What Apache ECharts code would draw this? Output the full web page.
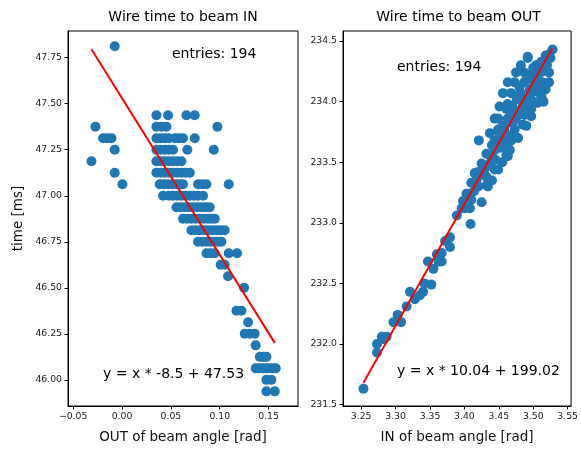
<!DOCTYPE html>
<html>
<head>
<meta charset="utf-8">
<script src="https://cdn.jsdelivr.net/npm/echarts@6/dist/echarts.min.js"></script>
<style>
  html, body { margin: 0; padding: 0; background: #fff; }
  #chart { width: 581px; height: 450px; }
</style>
</head>
<body>
<div id="chart"></div>
<script>
// left panel: OUT of beam angle vs wire time (one line per time row)
var outAngle = [
  -0.0075,
  0.0352, 0.0471, 0.0659, 0.0744,
  -0.0272, 0.0352, 0.0403, 0.0454, 0.0976,
  -0.0194, -0.0150, -0.0108, 0.0352, 0.0395, 0.0437, 0.0480, 0.0540, 0.0582, 0.0624, 0.0744,
  -0.0075, 0.0352, 0.0395, 0.0437, 0.0480, 0.0522, 0.0669, 0.0939,
  -0.0313, 0.0352, 0.0395, 0.0437, 0.0480, 0.0522, 0.0565, 0.0608,
  -0.0075, 0.0352, 0.0395, 0.0437, 0.0480, 0.0522, 0.0565, 0.0608, 0.0650, 0.0693,
  0.0004, 0.0386, 0.0429, 0.0471, 0.0514, 0.0557, 0.0591, 0.0624, 0.0778, 0.0820, 0.0864, 0.1092,
  0.0420, 0.0480, 0.0522, 0.0565, 0.0608, 0.0650, 0.0693, 0.0735, 0.0778, 0.0829,
  0.0557, 0.0600, 0.0642, 0.0685, 0.0727, 0.0770, 0.0813, 0.0855, 0.0898,
  0.0624, 0.0667, 0.0710, 0.0752, 0.0795, 0.0838, 0.0880, 0.0915, 0.0949,
  0.0710, 0.0752, 0.0795, 0.0838, 0.0880, 0.0923, 0.0966, 0.1008, 0.1051,
  0.0778, 0.0821, 0.0864, 0.0906, 0.0949, 0.0983, 0.1017,
  0.0864, 0.0906, 0.0949, 0.1092, 0.1177,
  0.1010, 0.1050,
  0.1085,
  0.1249,
  0.1171, 0.1222,
  0.1290,
  0.1256, 0.1307, 0.1358,
  0.1368,
  0.1410, 0.1444, 0.1478,
  0.1368, 0.1405, 0.1443, 0.1478, 0.1512, 0.1545, 0.1573,
  0.1478, 0.1529,
  0.1478, 0.1563
];
var outTime = [
  47.8125,
  47.4375, 47.4375, 47.4375, 47.4375,
  47.375, 47.375, 47.375, 47.375, 47.375,
  47.3125, 47.3125, 47.3125, 47.3125, 47.3125, 47.3125, 47.3125, 47.3125, 47.3125, 47.3125, 47.3125,
  47.25, 47.25, 47.25, 47.25, 47.25, 47.25, 47.25, 47.25,
  47.1875, 47.1875, 47.1875, 47.1875, 47.1875, 47.1875, 47.1875, 47.1875,
  47.125, 47.125, 47.125, 47.125, 47.125, 47.125, 47.125, 47.125, 47.125, 47.125,
  47.0625, 47.0625, 47.0625, 47.0625, 47.0625, 47.0625, 47.0625, 47.0625, 47.0625, 47.0625, 47.0625, 47.0625,
  47.0, 47.0, 47.0, 47.0, 47.0, 47.0, 47.0, 47.0, 47.0, 47.0,
  46.9375, 46.9375, 46.9375, 46.9375, 46.9375, 46.9375, 46.9375, 46.9375, 46.9375,
  46.875, 46.875, 46.875, 46.875, 46.875, 46.875, 46.875, 46.875, 46.875,
  46.8125, 46.8125, 46.8125, 46.8125, 46.8125, 46.8125, 46.8125, 46.8125, 46.8125,
  46.75, 46.75, 46.75, 46.75, 46.75, 46.75, 46.75,
  46.6875, 46.6875, 46.6875, 46.6875, 46.6875,
  46.625, 46.625,
  46.5625,
  46.5,
  46.375, 46.375,
  46.3125,
  46.25, 46.25, 46.25,
  46.1875,
  46.125, 46.125, 46.125,
  46.0625, 46.0625, 46.0625, 46.0625, 46.0625, 46.0625, 46.0625,
  46.0, 46.0,
  45.9375, 45.9375
];
var outFitX = [-0.0313, 0.1563];
var outFitY = [47.796, 46.201];

// right panel: IN of beam angle vs wire time
var inAngle = [
  3.2533, 3.273, 3.273, 3.280, 3.287, 3.297, 3.308, 3.316, 3.321, 3.328,
  3.340, 3.342, 3.352, 3.347, 3.355, 3.3625, 3.367, 3.367, 3.379, 3.379,
  3.409, 3.396, 3.401, 3.408, 3.410, 3.425, 3.403, 3.406, 3.410, 3.420,
  3.432, 3.434, 3.415, 3.420, 3.432, 3.425, 3.437, 3.444, 3.449, 3.432,
  3.444, 3.461, 3.463, 3.421, 3.437, 3.444, 3.451, 3.463, 3.449, 3.458,
  3.473, 3.485, 3.444, 3.449, 3.463, 3.475, 3.487, 3.451, 3.461, 3.470,
  3.482, 3.494, 3.506, 3.456, 3.468, 3.482, 3.497, 3.509, 3.463, 3.473,
  3.487, 3.501, 3.513, 3.523, 3.475, 3.487, 3.499, 3.511, 3.523, 3.482,
  3.492, 3.504, 3.506, 3.516, 3.525, 3.492, 3.523, 3.528, 3.468, 3.478,
  3.490, 3.497, 3.515, 3.518, 3.455, 3.440,
  3.430, 3.438, 3.445, 3.452, 3.458, 3.466, 3.470, 3.456, 3.478, 3.485,
  3.490, 3.476, 3.463, 3.495, 3.505, 3.480, 3.492, 3.512, 3.518, 3.500,
  3.440, 3.428, 3.418, 3.414, 3.398, 3.389, 3.372, 3.360, 3.335, 3.303,
  3.283, 3.497, 3.470, 3.466, 3.454, 3.520, 3.508, 3.512, 3.500
];
var inTime = [
  231.63, 232.00, 231.93, 232.06, 232.06, 232.18, 232.18, 232.31, 232.43, 232.37,
  232.43, 232.50, 232.49, 232.68, 232.62, 232.68, 232.68, 232.75, 232.80, 232.88,
  232.99, 233.12, 233.12, 233.12, 233.19, 233.17, 233.24, 233.24, 233.33, 233.30,
  233.31, 233.30, 233.41, 233.42, 233.38, 233.49, 233.49, 233.44, 233.44, 233.57,
  233.60, 233.56, 233.55, 233.68, 233.74, 233.68, 233.74, 233.63, 233.77, 233.77,
  233.77, 233.81, 233.86, 233.86, 233.86, 233.86, 233.89, 233.96, 233.94, 233.96,
  233.93, 233.96, 233.99, 234.07, 234.07, 234.07, 234.07, 234.07, 234.16, 234.16,
  234.16, 234.16, 234.16, 234.16, 234.24, 234.24, 234.24, 234.24, 234.24, 234.30,
  234.36, 234.30, 234.30, 234.30, 234.36, 234.37, 234.39, 234.43, 233.68, 233.70,
  233.80, 233.88, 234.00, 234.10, 233.50, 233.35,
  233.45, 233.55, 233.52, 233.62, 233.66, 233.72, 233.82, 233.80, 233.90, 233.98,
  234.02, 234.02, 233.98, 234.10, 234.20, 234.12, 234.20, 234.33, 234.38, 234.28,
  233.64, 233.40, 233.36, 233.26, 233.18, 233.06, 232.85, 232.74, 232.40, 232.24,
  232.04, 233.94, 233.90, 233.60, 233.70, 234.30, 234.12, 234.04, 234.00
];
var inFitX = [3.2533, 3.5277];
var inFitY = [231.68, 234.44];

var outTicksX = [-0.05, 0, 0.05, 0.10, 0.15];
var outTicksY = [46.00, 46.25, 46.50, 46.75, 47.00, 47.25, 47.50, 47.75];
var inTicksX = [3.25, 3.30, 3.35, 3.40, 3.45, 3.50, 3.55];
var inTicksY = [231.5, 232.0, 232.5, 233.0, 233.5, 234.0, 234.5];

var FONT = 'DejaVu Sans';

function pairs(xs, ys) {
  return xs.map(function (x, i) { return [x, ys[i]]; });
}
function fmt(digits) {
  return function (v) { return v.toFixed(digits).replace('-', '\u2212'); };
}
function makeAxis(grid, min, max, ticks, digits, extra) {
  var ax = {
    gridIndex: grid,
    type: 'value',
    min: min,
    max: max,
    axisLine: { show: true, onZero: false, lineStyle: { color: '#000', width: 1 } },
    axisTick: { show: true, customValues: ticks, length: 3.5, lineStyle: { color: '#000', width: 1 } },
    axisLabel: { customValues: ticks, formatter: fmt(digits), color: '#222', fontSize: 9.3, margin: 6, fontFamily: FONT },
    splitLine: { show: false },
    nameTextStyle: { color: '#111', fontSize: 13.5, fontFamily: FONT }
  };
  for (var k in extra) ax[k] = extra[k];
  return ax;
}

var chart = echarts.init(document.getElementById('chart'));
chart.setOption({
  animation: false,
  textStyle: { fontFamily: FONT },
  grid: [
    { left: 68, top: 31, width: 230, height: 375, show: true, borderColor: '#000', borderWidth: 1 },
    { left: 343, top: 31, width: 231, height: 375, show: true, borderColor: '#000', borderWidth: 1 }
  ],
  xAxis: [
    makeAxis(0, -0.0553, 0.1801, outTicksX, 2, { name: 'OUT of beam angle [rad]', nameLocation: 'middle', nameGap: 24 }),
    makeAxis(1, 3.2236, 3.555, inTicksX, 2, { name: 'IN of beam angle [rad]', nameLocation: 'middle', nameGap: 24 })
  ],
  yAxis: [
    makeAxis(0, 45.858, 47.895, outTicksY, 2, { name: 'time [ms]', nameLocation: 'middle', nameGap: 43 }),
    makeAxis(1, 231.488, 234.583, inTicksY, 1, {})
  ],
  graphic: [
    { type: 'text', x: 183, y: 17, style: { text: 'Wire time to beam IN', font: '14px "DejaVu Sans"', fill: '#000', align: 'center', verticalAlign: 'middle' } },
    { type: 'text', x: 458.5, y: 17, style: { text: 'Wire time to beam OUT', font: '14px "DejaVu Sans"', fill: '#000', align: 'center', verticalAlign: 'middle' } },
    { type: 'text', x: 172, y: 54, z: 10, style: { text: 'entries: 194', font: '14px "DejaVu Sans"', fill: '#000', align: 'left', verticalAlign: 'middle' } },
    { type: 'text', x: 103, y: 374, z: 10, style: { text: 'y = x * -8.5 + 47.53', font: '14px "DejaVu Sans"', fill: '#000', align: 'left', verticalAlign: 'middle' } },
    { type: 'text', x: 397, y: 67, z: 10, style: { text: 'entries: 194', font: '14px "DejaVu Sans"', fill: '#000', align: 'left', verticalAlign: 'middle' } },
    { type: 'text', x: 397, y: 371, z: 10, style: { text: 'y = x * 10.04 + 199.02', font: '14px "DejaVu Sans"', fill: '#000', align: 'left', verticalAlign: 'middle' } }
  ],
  series: [
    {
      type: 'scatter', xAxisIndex: 0, yAxisIndex: 0,
      symbolSize: 10, itemStyle: { color: '#1f77b4', opacity: 1 },
      data: pairs(outAngle, outTime)
    },
    {
      type: 'line', xAxisIndex: 0, yAxisIndex: 0, z: 5,
      showSymbol: false, symbol: 'none',
      lineStyle: { color: '#ff0000', width: 2 },
      data: pairs(outFitX, outFitY)
    },
    {
      type: 'scatter', xAxisIndex: 1, yAxisIndex: 1,
      symbolSize: 10, itemStyle: { color: '#1f77b4', opacity: 1 },
      data: pairs(inAngle, inTime)
    },
    {
      type: 'line', xAxisIndex: 1, yAxisIndex: 1, z: 5,
      showSymbol: false, symbol: 'none',
      lineStyle: { color: '#ff0000', width: 2 },
      data: pairs(inFitX, inFitY)
    }
  ]
});
</script>
</body>
</html>
